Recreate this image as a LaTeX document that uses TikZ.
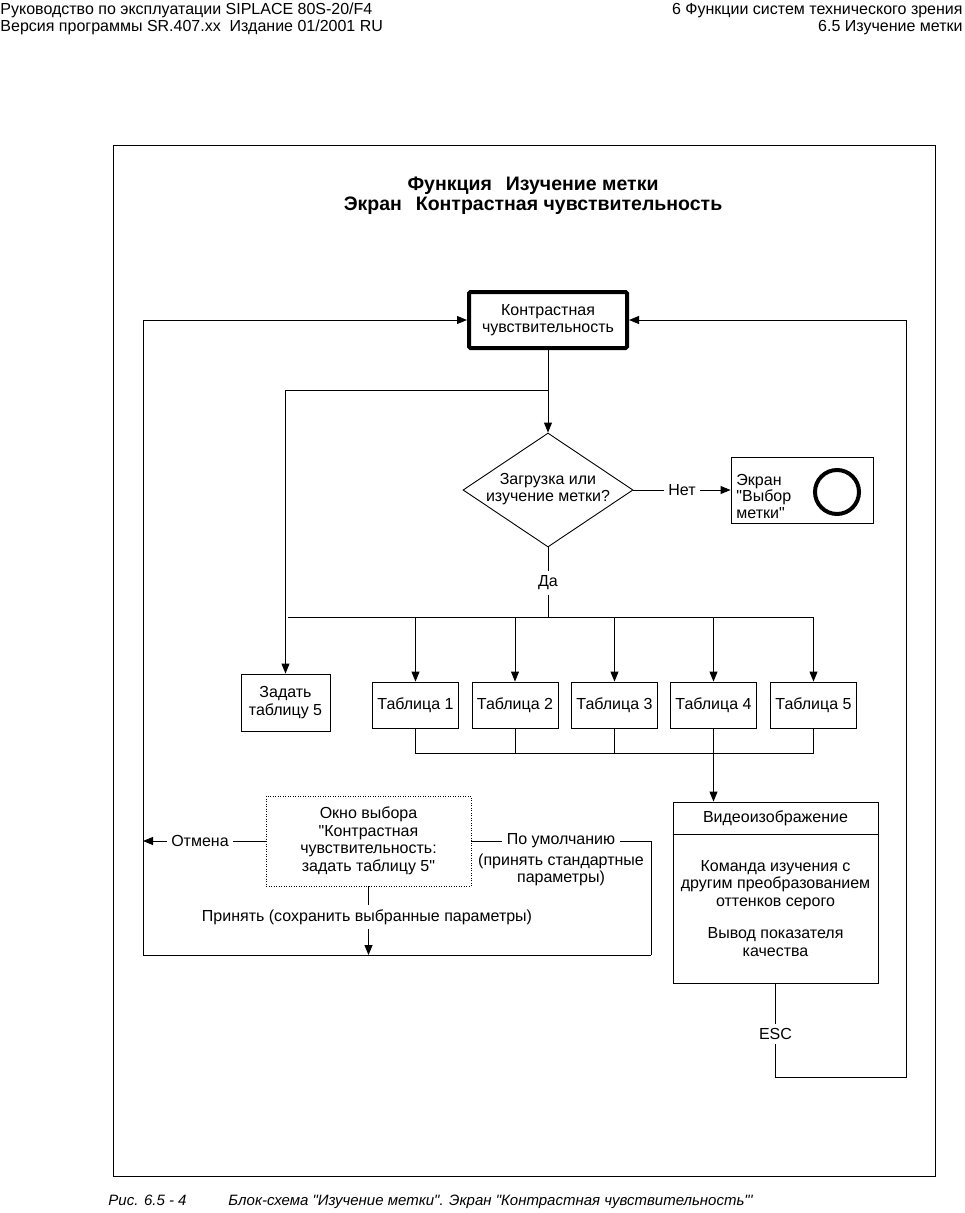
\documentclass[tikz,border=0pt]{standalone}
\usepackage{fontspec}
\setmainfont{Liberation Sans}[Ligatures=TeXOff]
\usetikzlibrary{arrows.meta,shapes.geometric}
\begin{document}
\begin{tikzpicture}[x=1pt,y=-1pt,
  line width=0.9pt,
  txt/.style={font=\fontsize{16}{17.5}\selectfont, align=center, inner sep=0pt},
  lbl/.style={txt, inner sep=4pt},
  box/.style={txt, draw, line width=0.9pt},
  arr/.style={-{Triangle[length=10pt,width=8pt]}},
  hdr/.style={font=\fontsize{16}{18}\selectfont, inner sep=0pt},
  ttl/.style={font=\bfseries\fontsize{19.5}{21}\selectfont, inner sep=0pt},
  capt/.style={font=\itshape\fontsize{15}{17}\selectfont, inner sep=0pt}]
\useasboundingbox (0,0) rectangle (964,1213);
\fill[white] (0,0) rectangle (964,1213);

% header
\node[hdr, anchor=base west] (h1) at (0,14) {Руководство по эксплуатации SIPLACE 80S-20/F4};
\node[hdr, anchor=base west] (h2) at (0,31) {Версия программы SR.407.xx\ \ Издание 01/2001 RU};
\node[hdr, anchor=base east] (h3) at (963,14) {6 Функции систем технического зрения};
\node[hdr, anchor=base east] (h4) at (963,31) {6.5 Изучение метки};

% frame
\node[draw, minimum width=822pt, minimum height=1031pt, inner sep=0pt] (frame) at (524,660.5) {};

% title
\node[ttl, anchor=base] (t1l) at (533,190) {Функция\hspace{14pt}Изучение метки};
\node[ttl, anchor=base] (t2l) at (533,210) {Экран\hspace{14pt}Контрастная чувствительность};

% top box
\node[box, line width=4pt, rounded corners=1.5pt, minimum width=158pt, minimum height=56pt] (top) at (548,320) {Контрастная\\чувствительность};

% decision
\node[draw, diamond, aspect=1.49, minimum width=170pt, minimum height=114pt, inner sep=0pt] (dec) at (548,490) {};
\node[txt] (dect) at (548,489) {Загрузка или\\изучение метки?};
\draw[arr] (top.south) -- (dec.north);

% Net branch
\node[lbl] (net) at (682,490) {Нет};
\node[draw, minimum width=142pt, minimum height=66pt, inner sep=0pt] (vyb) at (802,490) {};
\node[txt, align=left, anchor=west, font=\fontsize{16}{16.5}\selectfont] (vybt) at (736,496) {Экран\\"Выбор\\метки"};
\node[circle, draw, line width=4pt, minimum size=44pt, inner sep=0pt] (circ) at (837,492) {};
\draw (dec.east) -- (net.west);
\draw[arr] (net.east) -- (vyb.west);

% Da branch
\node[lbl] (da) at (548,583) {Да};
\coordinate (busc) at (548,617);
\coordinate (busL) at (288,617);
\draw (dec.south) -- (da.north);
\draw (da.south) -- (busc);

% tables
\foreach \i/\x in {1/415.5,2/515,3/614.5,4/713.5,5/813.5}
  \node[box, minimum width=86pt, minimum height=46pt] (t\i) at (\x,705) {Таблица \i};
\draw (busL) -- (t5.north |- busc);
\foreach \i in {1,...,5}
  \draw[arr] (t\i.north |- busc) -- (t\i.north);

% Zadat
\node[box, minimum width=89pt, minimum height=57pt] (zad) at (285.5,702.5) {Задать\\таблицу 5};
\coordinate (br) at (548,390);
\draw[arr] (br) -| (zad.north);

% bottom bus
\coordinate (bb) at (713.5,753);
\draw (t1.south) |- (bb) -| (t5.south);
\draw (t2.south) -- (t2.south |- bb);
\draw (t3.south) -- (t3.south |- bb);

% video
\node[draw, minimum width=205pt, minimum height=181pt, inner sep=0pt] (vid) at (775.5,892.5) {};
\coordinate (divy) at (0,834);
\draw (vid.west |- divy) -- (vid.east |- divy);
\node[txt] (vidh) at (775.5,818) {Видеоизображение};
\node[txt] (vidb1) at (775.5,885) {Команда изучения с\\другим преобразованием\\оттенков серого};
\node[txt] (vidb2) at (775.5,942) {Вывод показателя\\качества};
\draw[arr] (t4.south) -- (t4.south |- vid.north);

% ESC loop
\node[lbl] (esc) at (775.5,1034) {ESC};
\coordinate (rb) at (906,1077);
\draw (vid.south) -- (esc.north);
\draw[arr] (esc.south) |- (rb) |- (top.east);

% dialog
\node[txt, draw, dash pattern=on 1pt off 1.5pt, minimum width=205pt, minimum height=90pt] (dlg) at (368.5,841) {Окно выбора\\"Контрастная\\чувствительность:\\задать таблицу 5"};
\node[lbl] (otm) at (200,841) {Отмена};
\coordinate (lcan) at (143,841);
\coordinate (lb) at (143,955);
\coordinate (rdef) at (651,955);
\coordinate (rdtop) at (651,841);
\draw (dlg.west) -- (otm.east);
\draw[arr] (otm.west) -- (lcan);
\draw[arr] (lb) |- (top.west);
\draw (lb) -- (rdef);

\node[lbl] (pou) at (561,841) {По умолчанию};
\node[txt] (pou2) at (561,870) {(принять стандартные\\параметры)};
\draw (dlg.east) -- (pou.west);
\draw (pou.east) -- (rdtop) -- (rdef);

\node[lbl] (prn) at (367,917) {Принять (сохранить выбранные параметры)};
\draw (dlg.south) -- (dlg.south |- prn.north);
\draw[arr] (dlg.south |- prn.south) -- (dlg.south |- lb);

% caption
\node[capt, anchor=base west] (capn) at (108,1205) {Рис. 6.5 - 4};
\node[capt, anchor=base west] (capt) at (228,1205) {Блок-схема "Изучение метки". Экран "Контрастная чувствительность"'};
\end{tikzpicture}
\end{document}
